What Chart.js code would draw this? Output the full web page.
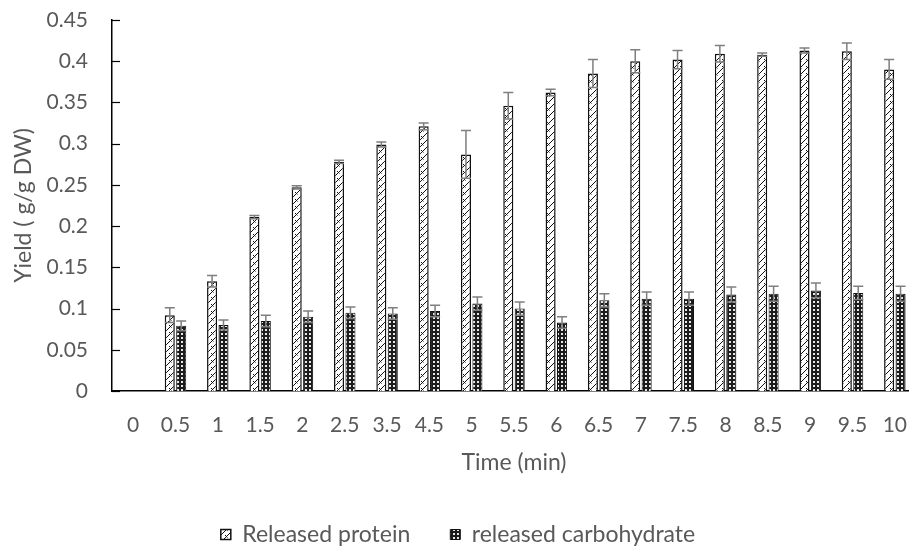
<!DOCTYPE html>
<html>
<head>
<meta charset="utf-8">
<script src="https://cdn.jsdelivr.net/npm/chart.js@4"></script>
<style>
    html, body { margin: 0; padding: 0; background: #fff; overflow: hidden; }
    #wrap { width: 920px; height: 548px; }
</style>
</head>
<body>
<div id="wrap"><canvas id="yieldChart" width="920" height="548"></canvas></div>
<script>
// --- Data ---
const timeLabels = ['0', '0.5', '1', '1.5', '2', '2.5', '3.5', '4.5', '5', '5.5', '6', '6.5', '7', '7.5', '8', '8.5', '9', '9.5', '10'];

const proteinYield = [0, 0.092, 0.133, 0.211, 0.247, 0.278, 0.299, 0.321, 0.287, 0.346, 0.362, 0.385, 0.400, 0.402, 0.409, 0.408, 0.413, 0.412, 0.390];
const proteinErr   = [0, 0.009, 0.007, 0.002, 0.002, 0.002, 0.003, 0.004, 0.029, 0.016, 0.004, 0.017, 0.014, 0.011, 0.010, 0.002, 0.003, 0.010, 0.012];

const carbYield = [0, 0.079, 0.080, 0.085, 0.090, 0.095, 0.094, 0.097, 0.106, 0.100, 0.083, 0.110, 0.112, 0.112, 0.117, 0.118, 0.122, 0.119, 0.118];
const carbErr   = [0, 0.006, 0.006, 0.007, 0.007, 0.007, 0.007, 0.007, 0.008, 0.008, 0.007, 0.008, 0.008, 0.008, 0.009, 0.009, 0.009, 0.008, 0.009];

const seriesNames = ['Released protein', 'released carbohydrate'];
const errorSets = [proteinErr, carbErr];

const TEXT_COLOR = '#595959';
const FONT = 'Lato, "Open Sans", sans-serif';

// --- Fill patterns ---
function makeProteinPattern() {
    const c = document.createElement('canvas');
    c.width = 7; c.height = 7;
    const g = c.getContext('2d');
    g.fillStyle = '#fff';
    g.fillRect(0, 0, 7, 7);
    g.strokeStyle = '#111';
    g.lineWidth = 1;
    g.beginPath();
    g.moveTo(0, 7); g.lineTo(7, 0);
    g.moveTo(1, 3); g.lineTo(3.5, 5.5);
    g.stroke();
    return g.createPattern(c, 'repeat');
}

function makeCarbPattern() {
    const c = document.createElement('canvas');
    c.width = 4; c.height = 4;
    const g = c.getContext('2d');
    g.fillStyle = '#1c1c1c';
    g.fillRect(0, 0, 4, 4);
    g.fillStyle = '#e8e8e8';
    g.fillRect(1, 1, 2, 2);
    return g.createPattern(c, 'repeat');
}

// error bars drawn from the bar elements and the y scale
const errorBarPlugin = {
    id: 'errorBars',
    afterDatasetsDraw(chart) {
        const ctx = chart.ctx;
        const yScale = chart.scales.y;
        ctx.save();
        ctx.strokeStyle = '#7f7f7f';
        ctx.lineWidth = 1.5;
        chart.data.datasets.forEach((ds, di) => {
            const meta = chart.getDatasetMeta(di);
            meta.data.forEach((bar, i) => {
                const v = ds.data[i];
                const e = errorSets[di][i];
                if (!v) return;
                const yTop = yScale.getPixelForValue(v + e);
                const yBot = yScale.getPixelForValue(v - e);
                const half = bar.width / 2;
                ctx.beginPath();
                ctx.moveTo(bar.x, yTop); ctx.lineTo(bar.x, yBot);
                ctx.moveTo(bar.x - half, yTop); ctx.lineTo(bar.x + half, yTop);
                ctx.moveTo(bar.x - half, yBot); ctx.lineTo(bar.x + half, yBot);
                ctx.stroke();
            });
        });
        ctx.restore();
    }
};

// small tick marks pointing into the plot on the value axis
const innerTicksPlugin = {
    id: 'innerTicks',
    afterDraw(chart) {
        const ctx = chart.ctx;
        const yScale = chart.scales.y;
        const left = chart.chartArea.left;
        ctx.save();
        ctx.strokeStyle = '#000';
        ctx.lineWidth = 1.2;
        yScale.ticks.forEach(t => {
            const y = Math.round(yScale.getPixelForValue(t.value)) + 0.5;
            ctx.beginPath();
            ctx.moveTo(left, y);
            ctx.lineTo(left + 8, y);
            ctx.stroke();
        });
        ctx.restore();
    }
};

const ctx = document.getElementById('yieldChart');

new Chart(ctx, {
    type: 'bar',
    data: {
        labels: timeLabels,
        datasets: [{
            label: seriesNames[0],
            data: proteinYield,
            backgroundColor: makeProteinPattern(),
            borderColor: '#111',
            borderWidth: 1.5,
            borderSkipped: 'bottom'
        }, {
            label: seriesNames[1],
            data: carbYield,
            backgroundColor: makeCarbPattern(),
            borderColor: '#111',
            borderWidth: 1,
            borderSkipped: 'bottom'
        }]
    },
    options: {
        responsive: false,
        animation: false,
        layout: { padding: { top: 20, left: 0, right: 4, bottom: -8 } },
        datasets: {
            bar: { categoryPercentage: 0.54, barPercentage: 0.88 }
        },
        scales: {
            x: {
                grid: { display: false, drawTicks: false },
                border: { display: true, color: '#000', width: 1.5 },
                ticks: {
                    color: TEXT_COLOR,
                    font: { family: FONT, size: 21 },
                    padding: 22,
                    maxRotation: 0,
                    autoSkip: false
                },
                title: {
                    display: true,
                    text: 'Time (min)',
                    color: TEXT_COLOR,
                    font: { family: FONT, size: 23 },
                    padding: { top: 0, bottom: 7 }
                },
                afterFit(s) { s.height = 92; s.paddingLeft = 0; s.paddingRight = 0; }
            },
            y: {
                min: 0,
                max: 0.45,
                grid: { display: false, drawTicks: false },
                border: { display: true, color: '#000', width: 1.5 },
                ticks: {
                    stepSize: 0.05,
                    color: TEXT_COLOR,
                    font: { family: FONT, size: 21 },
                    padding: 24,
                    callback: v => String(parseFloat(v.toFixed(2)))
                },
                title: {
                    display: true,
                    text: 'Yield ( g/g DW)',
                    color: TEXT_COLOR,
                    font: { family: FONT, size: 23 },
                    padding: { top: 10, bottom: 0 }
                },
                afterFit(s) { s.width = 112; s.paddingTop = 0; s.paddingBottom = 0; }
            }
        },
        plugins: {
            legend: {
                position: 'bottom',
                labels: {
                    boxWidth: 10,
                    boxHeight: 10,
                    padding: 40,
                    color: TEXT_COLOR,
                    font: { family: FONT, size: 23 }
                }
            },
            tooltip: { enabled: false }
        }
    },
    plugins: [errorBarPlugin, innerTicksPlugin]
});
</script>
</body>
</html>
